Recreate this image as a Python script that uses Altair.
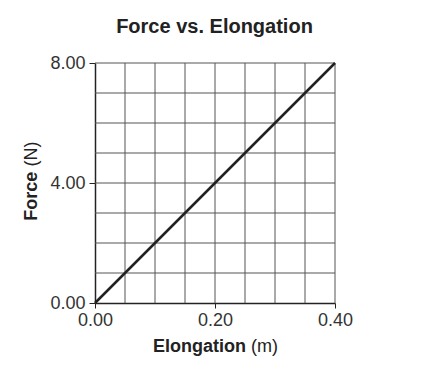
import altair as alt
import pandas as pd

# Data
elongation = [0.0, 0.1, 0.2, 0.3, 0.4]
force = [0.0, 2.0, 4.0, 6.0, 8.0]
grid_x = [0.05, 0.10, 0.15, 0.20, 0.25, 0.30, 0.35, 0.40]
grid_y = [1, 2, 3, 4, 5, 6, 7, 8]
x_ticks = [0.0, 0.2, 0.4]
y_ticks = [0.0, 4.0, 8.0]

line_df = pd.DataFrame({"Elongation": elongation, "Force": force})
gx_df = pd.DataFrame({"Elongation": grid_x})
gy_df = pd.DataFrame({"Force": grid_y})

FONT = "Liberation Sans"
xscale = alt.Scale(domain=[0, 0.4], nice=False)
yscale = alt.Scale(domain=[0, 8], nice=False)

xaxis = alt.Axis(values=x_ticks, format=".2f", grid=False, title=None,
                 tickSize=5, labelPadding=3, labelFontSize=18, labelFlush=False,
                 labelFont=FONT, labelColor="#333333",
                 domainColor="#222222", domainWidth=1.5,
                 tickColor="#222222", tickWidth=1)
yaxis = alt.Axis(values=y_ticks, format=".2f", grid=False, title=None,
                 tickSize=6, labelPadding=4, labelFontSize=18, labelFlush=False,
                 labelFont=FONT, labelColor="#333333",
                 domainColor="#222222", domainWidth=1.5,
                 tickColor="#222222", tickWidth=1)

X = alt.X("Elongation:Q", scale=xscale, axis=xaxis)
Y = alt.Y("Force:Q", scale=yscale, axis=yaxis)

vgrid = alt.Chart(gx_df).mark_rule(color="#555555", strokeWidth=1).encode(x=X)
hgrid = alt.Chart(gy_df).mark_rule(color="#555555", strokeWidth=1).encode(y=Y)
line = alt.Chart(line_df).mark_line(color="#222222", strokeWidth=2.5).encode(x=X, y=Y)

def label(text, x, y, bold, size=18, angle=0, align="left", color="#222222"):
    kw = dict(text=text, font=FONT, fontSize=size, color=color, align=align,
              baseline="alphabetic", fontWeight="bold" if bold else "normal")
    if angle:
        kw["angle"] = angle
    return alt.Chart(pd.DataFrame({"a": [0]})).mark_text(**kw).encode(
        x=alt.value(x), y=alt.value(y)
    )

title = label("Force vs. Elongation", 119.5, -30, True, size=20, align="center")
xt1 = label("Elongation", 151, 289, True, align="right")
xt2 = label("(m)", 156, 289, False, align="left")
yt1 = label("Force", -58.5, 108.7, True, angle=270, align="right")
yt2 = label("(N)", -58.5, 103.5, False, angle=270, align="left")

chart = alt.layer(vgrid, hgrid, line, title, xt1, xt2, yt1, yt2).properties(
    width=240, height=240,
    autosize=alt.AutoSizeParams(type="none"),
    padding={"left": 87, "top": 55, "right": 91, "bottom": 63},
).configure_view(stroke=None)

chart.save("out.html", embed_options={"renderer": "svg", "actions": False})
